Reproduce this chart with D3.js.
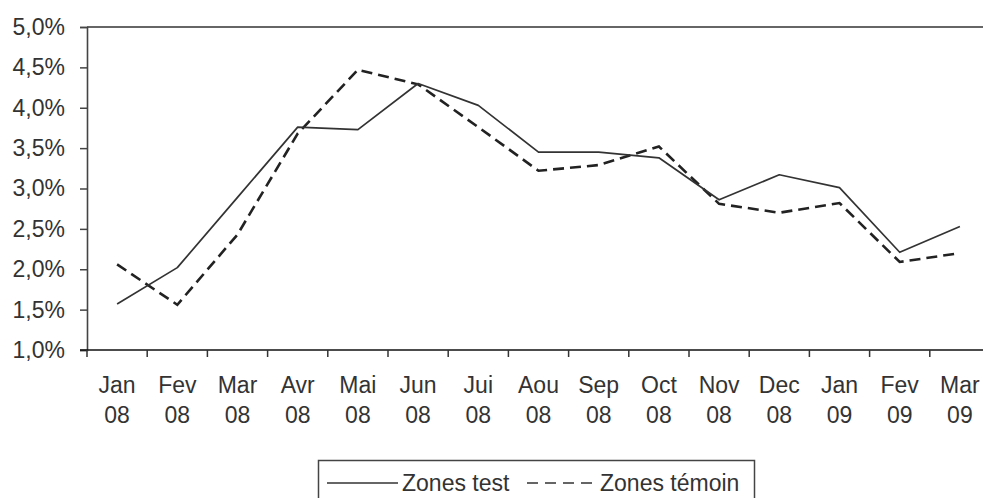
<!DOCTYPE html>
<html>
<head>
<meta charset="utf-8">
<script src="https://cdn.jsdelivr.net/npm/d3@7"></script>
<style>
  html, body { margin: 0; padding: 0; background: #fff; }
  svg { display: block; font-family: "Liberation Sans", Arial, sans-serif; }
</style>
</head>
<body>
<svg id="chart" width="983" height="498"></svg>
<script>
const months = ["Jan", "Fev", "Mar", "Avr", "Mai", "Jun", "Jui", "Aou", "Sep", "Oct", "Nov", "Dec", "Jan", "Fev", "Mar"];
const years  = ["08", "08", "08", "08", "08", "08", "08", "08", "08", "08", "08", "08", "09", "09", "09"];
const zonesTest   = [1.57, 2.02, 2.89, 3.76, 3.73, 4.30, 4.03, 3.45, 3.45, 3.38, 2.86, 3.17, 3.01, 2.21, 2.53];
const zonesTemoin = [2.06, 1.56, 2.43, 3.68, 4.47, 4.29, 3.76, 3.22, 3.29, 3.52, 2.81, 2.70, 2.82, 2.09, 2.20];
const yTicks = [1.0, 1.5, 2.0, 2.5, 3.0, 3.5, 4.0, 4.5, 5.0];
const seriesNames = ["Zones test", "Zones témoin"];

(function () {
const svg = d3.select("#chart");
const mLeft = 87, mRight = 990, mTop = 27, mBottom = 350;
const ids = months.map((m, i) => i);

const x = d3.scaleBand().domain(ids).range([mLeft, mRight]).padding(0);
const y = d3.scaleLinear().domain([1, 5]).range([mBottom, mTop]);
const fmt = v => v.toFixed(1).replace(".", ",") + "%";

// top border
svg.append("line")
  .attr("x1", mLeft).attr("x2", mRight)
  .attr("y1", y(5)).attr("y2", y(5))
  .attr("stroke", "#666").attr("stroke-width", 2);

// y axis
const yAxis = svg.append("g").attr("transform", `translate(${mLeft},0)`)
  .call(d3.axisLeft(y).tickValues(yTicks).tickFormat(fmt).tickSize(7).tickPadding(15));
yAxis.select(".domain").attr("stroke", "#444").attr("stroke-width", 1.6);
yAxis.selectAll(".tick line").attr("stroke", "#444").attr("stroke-width", 1.5);
yAxis.selectAll(".tick text").attr("font-size", 23).attr("fill", "#333")
  .attr("font-family", "Liberation Sans, Arial, sans-serif");

// x axis line
svg.append("line")
  .attr("x1", mLeft - 7).attr("x2", mRight)
  .attr("y1", mBottom).attr("y2", mBottom)
  .attr("stroke", "#111").attr("stroke-width", 1.6);

// x ticks at band boundaries
const boundaries = ids.map(i => x(i));
svg.append("g").selectAll("line").data(boundaries).join("line")
  .attr("x1", d => d).attr("x2", d => d)
  .attr("y1", mBottom).attr("y2", mBottom + 7)
  .attr("stroke", "#333").attr("stroke-width", 1.5);

// x labels
const xl = svg.append("g").attr("font-size", 23).attr("fill", "#333").attr("text-anchor", "middle");
xl.selectAll("text.m").data(ids).join("text").attr("class", "m")
  .attr("x", i => x(i) + x.bandwidth() / 2).attr("y", 393)
  .text(i => months[i]);
xl.selectAll("text.yr").data(ids).join("text").attr("class", "yr")
  .attr("x", i => x(i) + x.bandwidth() / 2).attr("y", 423)
  .text(i => years[i]);

// lines
const line = d3.line().x((d, i) => x(i) + x.bandwidth() / 2).y(d => y(d));
svg.append("path").datum(zonesTemoin).attr("d", line)
  .attr("fill", "none").attr("stroke", "#222").attr("stroke-width", 2.6)
  .attr("stroke-dasharray", "11,6");
svg.append("path").datum(zonesTest).attr("d", line)
  .attr("fill", "none").attr("stroke", "#333").attr("stroke-width", 1.7)
  .attr("stroke-linejoin", "round");

// legend
const lg = svg.append("g");
lg.append("rect").attr("x", 318.5).attr("y", 460.5).attr("width", 436).attr("height", 60)
  .attr("fill", "#fff").attr("stroke", "#444").attr("stroke-width", 1.5);
lg.append("line").attr("x1", 327).attr("x2", 398).attr("y1", 483).attr("y2", 483)
  .attr("stroke", "#333").attr("stroke-width", 1.7);
lg.append("text").attr("x", 402).attr("y", 491).attr("font-size", 23).attr("fill", "#333").text(seriesNames[0]);
lg.append("line").attr("x1", 527).attr("x2", 598).attr("y1", 483).attr("y2", 483)
  .attr("stroke", "#333").attr("stroke-width", 1.7).attr("stroke-dasharray", "11,7");
lg.append("text").attr("x", 600).attr("y", 491).attr("font-size", 23).attr("fill", "#333").text(seriesNames[1]);
})();
</script>
</body>
</html>
